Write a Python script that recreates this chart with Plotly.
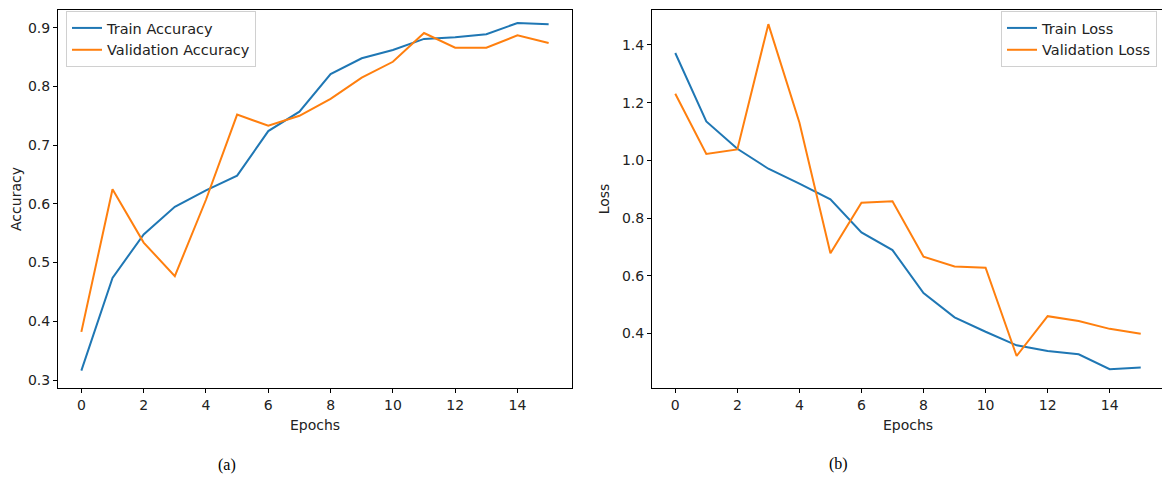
import plotly.graph_objects as go

# Datos
epochs = list(range(16))
train_acc = [0.316, 0.474, 0.548, 0.595, 0.623, 0.648, 0.724, 0.757,
             0.821, 0.848, 0.862, 0.881, 0.884, 0.889, 0.908, 0.906]
val_acc = [0.382, 0.625, 0.534, 0.477, 0.607, 0.752, 0.733, 0.750,
           0.779, 0.815, 0.842, 0.891, 0.866, 0.866, 0.887, 0.874]
train_loss = [1.372, 1.135, 1.040, 0.971, 0.919, 0.865, 0.750, 0.689,
              0.540, 0.456, 0.406, 0.359, 0.339, 0.328, 0.276, 0.282]
val_loss = [1.231, 1.022, 1.038, 1.472, 1.131, 0.678, 0.853, 0.858,
            0.666, 0.632, 0.628, 0.322, 0.460, 0.443, 0.416, 0.399]

blue = '#1f77b4'
orange = '#ff7f0e'
W, H = 1170, 477
OFF = 8  # margen del body en la página


def px(x):
    return (x - OFF) / W


def py(y):
    return min(1.0, 1 - (y - OFF) / H)


fig = go.Figure()
fig.add_trace(go.Scatter(x=epochs, y=train_acc, mode='lines', name='Train Accuracy',
                         line=dict(color=blue, width=2), xaxis='x', yaxis='y', legend='legend'))
fig.add_trace(go.Scatter(x=epochs, y=val_acc, mode='lines', name='Validation Accuracy',
                         line=dict(color=orange, width=2), xaxis='x', yaxis='y', legend='legend'))
fig.add_trace(go.Scatter(x=epochs, y=train_loss, mode='lines', name='Train Loss',
                         line=dict(color=blue, width=2), xaxis='x2', yaxis='y2', legend='legend2'))
fig.add_trace(go.Scatter(x=epochs, y=val_loss, mode='lines', name='Validation Loss',
                         line=dict(color=orange, width=2), xaxis='x2', yaxis='y2', legend='legend2'))

tick_font = dict(family='DejaVu Sans', size=14, color='#222')
common = dict(showline=True, mirror=True, linecolor='black', linewidth=1,
              ticks='outside', ticklen=4, tickcolor='black', showgrid=False,
              zeroline=False, tickfont=tick_font, automargin=False)
ydom = [py(388), py(10)]

legend_style = dict(bgcolor='white', bordercolor='#d0d0d0', borderwidth=1,
                    font=dict(family='DejaVu Sans', size=14.5, color='#222'),
                    tracegroupgap=0, itemwidth=30)

fig.update_layout(
    width=W, height=H,
    margin=dict(l=0, r=0, t=0, b=0),
    paper_bgcolor='white', plot_bgcolor='white',
    xaxis=dict(domain=[px(58), px(572)], range=[-0.75, 15.75], tickvals=list(range(0, 16, 2)),
               title=dict(text='Epochs', font=tick_font, standoff=8), anchor='y', **common),
    yaxis=dict(domain=ydom, range=[0.2864, 0.9302], tickvals=[0.3, 0.4, 0.5, 0.6, 0.7, 0.8, 0.9],
               tickformat='.1f', title=dict(text='Accuracy', font=tick_font, standoff=12),
               anchor='x', **common),
    xaxis2=dict(domain=[px(652), px(1164)], range=[-0.75, 15.75], tickvals=list(range(0, 16, 2)),
                title=dict(text='Epochs', font=tick_font, standoff=8), anchor='y2', **common),
    yaxis2=dict(domain=ydom, range=[0.211, 1.5211], tickvals=[0.4, 0.6, 0.8, 1.0, 1.2, 1.4],
                tickformat='.1f', title=dict(text='Loss', font=tick_font, standoff=9),
                anchor='x2', **common),
    legend=dict(x=px(66), y=py(11), xanchor='left', yanchor='top', **legend_style),
    legend2=dict(x=px(1157), y=py(11), xanchor='right', yanchor='top', **legend_style),
    annotations=[
        dict(text='(a)', x=px(227), y=py(465), xref='paper', yref='paper',
             xanchor='center', yanchor='middle', showarrow=False,
             font=dict(family='Liberation Serif', size=16, color='black')),
        dict(text='(b)', x=px(838), y=py(464), xref='paper', yref='paper',
             xanchor='center', yanchor='middle', showarrow=False,
             font=dict(family='Liberation Serif', size=16, color='black')),
    ],
)

fig.write_html("out.html")
